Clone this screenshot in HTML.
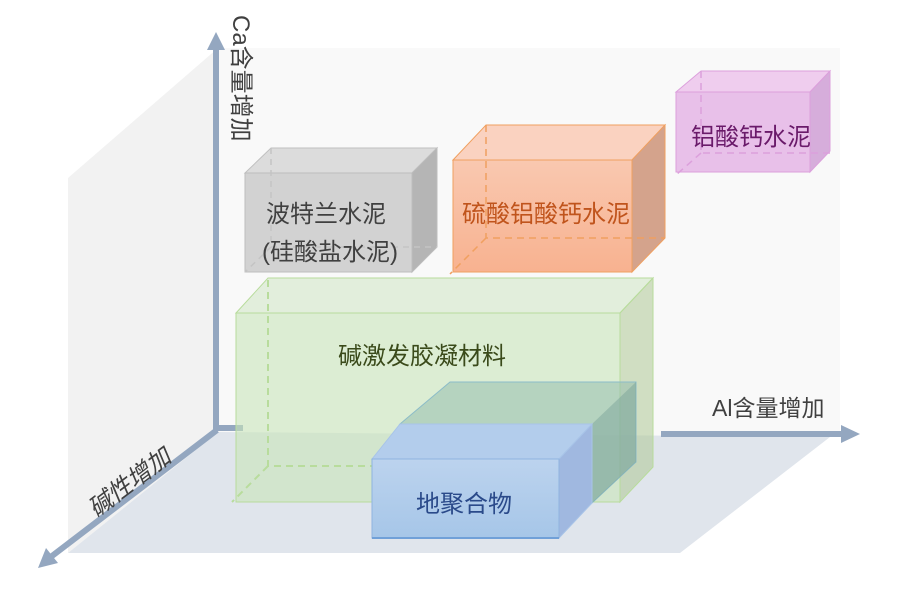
<!DOCTYPE html>
<html><head><meta charset="utf-8"><style>
html,body{margin:0;padding:0;background:#fff;}
svg{display:block;}
text{font-family:"Liberation Sans","Noto Sans CJK SC",sans-serif;}
</style></head><body>
<svg width="897" height="594" viewBox="0 0 897 594" xmlns="http://www.w3.org/2000/svg">
<defs>
<linearGradient id="og" x1="0" y1="0" x2="0" y2="1"><stop offset="0" stop-color="#f9c8b0"/><stop offset="1" stop-color="#f8b290"/></linearGradient>
<linearGradient id="bg" x1="0" y1="0" x2="0" y2="1"><stop offset="0" stop-color="#bcd3ee"/><stop offset="1" stop-color="#a6c6e8"/></linearGradient>
</defs>
<polygon points="218,48 840,48 840,437 218,432" fill="#f9f9f9"/>
<polygon points="68,178 218,48 218,432 68,553" fill="#f2f2f2"/>
<polygon points="218,432 830,437 680,553 68,553" fill="#e0e5ec"/>

<line x1="216" y1="430" x2="216" y2="48" stroke="#94a7c0" stroke-width="6"/>
<polygon points="207,50 225,50 216,32" fill="#94a7c0"/>
<line x1="216" y1="428" x2="243" y2="428" stroke="#94a7c0" stroke-width="6"/>
<line x1="217" y1="430" x2="52" y2="556" stroke="#94a7c0" stroke-width="6"/>
<polygon points="38,568 46,548 58,563" fill="#94a7c0"/>
<line x1="661" y1="434" x2="843" y2="434" stroke="#94a7c0" stroke-width="6"/>
<polygon points="841,425 841,443 860,434" fill="#94a7c0"/>

<text transform="translate(233,15) rotate(90)" font-size="24" fill="#404040">Ca含量增加</text>
<text x="712" y="416" font-size="23" fill="#404040">Al含量增加</text>
<text transform="translate(96,518) rotate(-37)" font-size="24" fill="#404040" font-style="italic">碱性增加</text>

<polygon points="245,173 271,148 437,148 412,173" fill="#dcdcdc" stroke="#c0c0c0"/>
<polygon points="412,173 437,148 437,247 412,272" fill="#b5b5b5" stroke="#bdbdbd"/>
<rect x="245" y="173" width="167" height="99" fill="#d2d2d2" stroke="#bdbdbd"/>
<path d="M271,148 V247 H437 M271,247 L245,272" stroke="#c4c4c4" stroke-width="1.5" stroke-dasharray="6,5" fill="none"/>
<text x="326" y="222" font-size="24" fill="#404040" text-anchor="middle">波特兰水泥</text>
<text x="330" y="260" font-size="24" fill="#404040" text-anchor="middle">(硅酸盐水泥)</text>

<polygon points="453,160 486,125 665,125 632,160" fill="#fad2c0" stroke="#f0a060"/>
<polygon points="632,160 665,125 665,238 632,272" fill="#d4a38c" stroke="#f0a060"/>
<rect x="453" y="160" width="179" height="112" fill="url(#og)" stroke="#f0a060"/>
<path d="M486,125 V238 H665 M486,238 L450,274" stroke="#f0a060" stroke-width="1.5" stroke-dasharray="7,5" fill="none"/>
<text x="546" y="222" font-size="24" fill="#c0541c" text-anchor="middle">硫酸铝酸钙水泥</text>

<polygon points="676,92 701,71 830,71 810,92" fill="#efcdee" stroke="#dca0dc"/>
<polygon points="810,92 830,71 830,151 810,172" fill="#d6addb" stroke="#dca0dc"/>
<rect x="676" y="92" width="134" height="80" fill="#e8c0e9" stroke="#dca0dc"/>
<path d="M701,71 V153 H830 M701,153 L676,175" stroke="#dca0dc" stroke-width="1.5" stroke-dasharray="7,5" fill="none"/>
<text x="751" y="145" font-size="24" fill="#6a1a6a" text-anchor="middle">铝酸钙水泥</text>

<polygon points="236,313 268,278 653,278 620,313" fill="rgba(210,230,200,0.6)" stroke="#b8dc9c"/>
<polygon points="620,313 653,278 653,467 620,502" fill="rgba(175,200,150,0.55)" stroke="#b8dc9c"/>
<rect x="236" y="313" width="384" height="189" fill="rgba(200,228,185,0.6)" stroke="#b8dc9c"/>
<path d="M268,280 V466 H560 M268,466 L232,502" stroke="#b8dc9c" stroke-width="2" stroke-dasharray="7,5" fill="none"/>
<text x="422" y="364" font-size="24" fill="#3a4a1a" text-anchor="middle">碱激发胶凝材料</text>

<polygon points="400,424 450,382 636,382 636,462 592,503 592,424" fill="rgba(150,190,175,0.55)" stroke="#8cbcc8"/>
<polygon points="592,424 636,382 636,462 592,503" fill="rgba(120,160,150,0.45)"/>
<polygon points="372,459 400,424 592,424 559,459" fill="#b3cdec" stroke="#a8c4e8"/>
<polygon points="559,459 592,424 592,503 559,538" fill="#a0b8e0" stroke="#a8c4e8"/>
<rect x="372" y="459" width="187" height="79" fill="url(#bg)" stroke="#8fb4e0"/>
<line x1="372" y1="538" x2="559" y2="538" stroke="#70a0d8" stroke-width="2"/>
<text x="464" y="512" font-size="24" fill="#2a4a8a" text-anchor="middle">地聚合物</text>
</svg>
</body></html>
